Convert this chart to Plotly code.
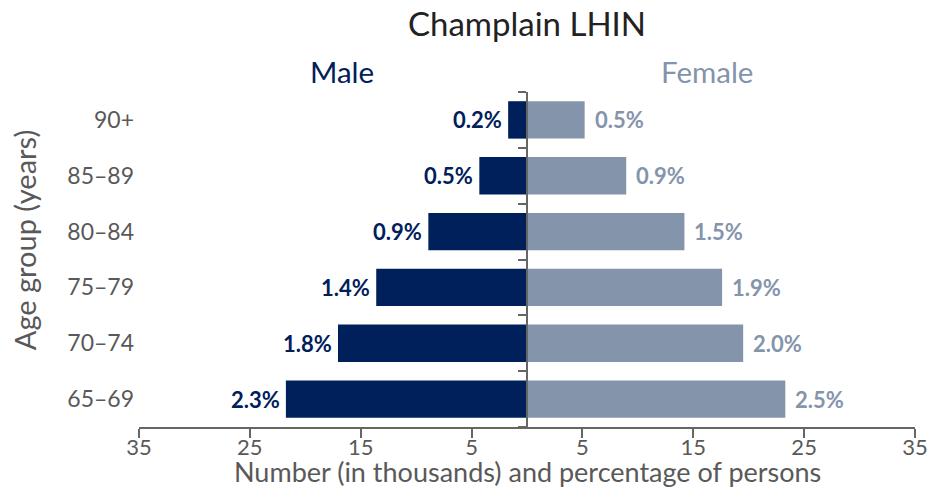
import plotly.graph_objects as go

age_groups = ["65–69", "70–74", "75–79", "80–84", "85–89", "90+"]
male_thousands = [21.75, 17.05, 13.6, 8.9, 4.3, 1.7]
female_thousands = [23.3, 19.5, 17.6, 14.2, 8.95, 5.2]
male_pct = ["2.3%", "1.8%", "1.4%", "0.9%", "0.5%", "0.2%"]
female_pct = ["2.5%", "2.0%", "1.9%", "1.5%", "0.9%", "0.5%"]
tick_vals = [-35, -25, -15, -5, 5, 15, 25, 35]
tick_text = ["35", "25", "15", "5", "5", "15", "25", "35"]

MALE = "#00205B"
FEMALE = "#8494AB"
GRAY = "#595959"
AX = "#666666"
FONT = "Lato"

fig = go.Figure()
fig.add_trace(go.Bar(
    y=age_groups, x=[-v for v in male_thousands], orientation="h",
    marker=dict(color=MALE, line=dict(width=0)), name="Male",
    yaxis="y", hoverinfo="skip"))
fig.add_trace(go.Bar(
    y=age_groups, x=female_thousands, orientation="h",
    marker=dict(color=FEMALE, line=dict(width=0)), name="Female",
    yaxis="y2", hoverinfo="skip"))

annotations = []
for a, v, t in zip(age_groups, male_thousands, male_pct):
    annotations.append(dict(x=-v, y=a, xref="x", yref="y", text=f"<b>{t}</b>",
                            showarrow=False, xanchor="right", xshift=-4,
                            font=dict(family=FONT, size=22, color=MALE)))
for a, v, t in zip(age_groups, female_thousands, female_pct):
    annotations.append(dict(x=v, y=a, xref="x", yref="y", text=f"<b>{t}</b>",
                            showarrow=False, xanchor="left", xshift=8,
                            font=dict(family=FONT, size=22, color=FEMALE)))

annotations += [
    dict(x=0.262, y=1.06, xref="paper", yref="paper", text="Male", showarrow=False,
         xanchor="center", yanchor="middle", font=dict(family=FONT, size=29.5, color=MALE)),
    dict(x=0.732, y=1.06, xref="paper", yref="paper", text="Female", showarrow=False,
         xanchor="center", yanchor="middle", font=dict(family=FONT, size=29.5, color=FEMALE)),
    dict(x=0.5, y=-0.133, xref="paper", yref="paper",
         text="Number (in thousands) and percentage of persons", showarrow=False,
         xanchor="center", yanchor="middle", font=dict(family=FONT, size=27, color=GRAY)),
    dict(x=-0.148, y=0.558, xref="paper", yref="paper", text="Age group (years)",
         showarrow=False, textangle=-90, xanchor="center", yanchor="middle",
         font=dict(family=FONT, size=29, color=GRAY)),
]

fig.update_layout(
    width=928, height=487,
    margin=dict(l=139, r=13, t=92, b=60),
    paper_bgcolor="white", plot_bgcolor="white",
    barmode="overlay", bargap=0.33, showlegend=False,
    title=dict(text="Champlain LHIN", x=0.5, xref="paper", xanchor="center",
               y=0.949, yanchor="middle", yref="container",
               font=dict(family=FONT, size=33, color="#222222")),
    xaxis=dict(range=[-35, 35], tickvals=tick_vals, ticktext=tick_text,
               showgrid=False, zeroline=False, showline=True, linecolor=AX,
               linewidth=2, ticks="outside", ticklen=9, tickwidth=2, tickcolor=AX,
               ticklabelstandoff=-9, automargin=False,
               tickfont=dict(family=FONT, size=22, color=GRAY), fixedrange=True),
    yaxis=dict(type="category", categoryorder="array", categoryarray=age_groups,
               range=[-0.5, 5.5], showgrid=False, zeroline=False, showline=False,
               ticks="", ticklabelstandoff=4, automargin=False,
               tickfont=dict(family=FONT, size=23, color=GRAY)),
    yaxis2=dict(type="category", categoryorder="array", categoryarray=age_groups,
                matches="y", overlaying="y", anchor="free", position=0.5,
                showgrid=False, zeroline=False, showline=True, linecolor=AX,
                linewidth=2, ticks="outside", tickson="boundaries", ticklen=8,
                tickwidth=2, tickcolor=AX, showticklabels=False, automargin=False),
    annotations=annotations,
    font=dict(family=FONT),
)

fig.write_html("out.html", config={"displayModeBar": False},
               post_script="document.body.style.margin='0';"
                           "document.body.style.overflow='hidden';")
